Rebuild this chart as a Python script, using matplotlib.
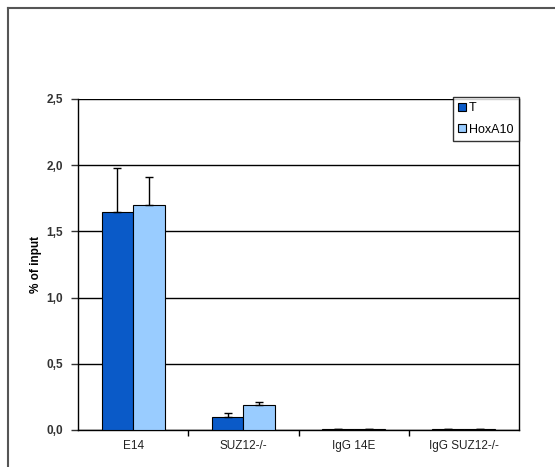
import numpy as np
import matplotlib.pyplot as plt
from matplotlib.lines import Line2D

categories = ['E14', 'SUZ12-/-', 'IgG 14E', 'IgG SUZ12-/-']
t_vals = [1.65, 0.10, 0.005, 0.005]
t_err = [0.33, 0.025, 0.0, 0.0]
hox_vals = [1.70, 0.19, 0.005, 0.005]
hox_err = [0.21, 0.02, 0.0, 0.0]
yticks = [0.0, 0.5, 1.0, 1.5, 2.0, 2.5]
ytick_labels = ['0,0', '0,5', '1,0', '1,5', '2,0', '2,5']

plt.rcParams['font.family'] = ['Liberation Sans', 'DejaVu Sans']

fig = plt.figure(figsize=(5.55, 4.67), dpi=100)
W, H = 555, 467
ax = fig.add_axes([78 / W, 1 - 430 / H, (519 - 78) / W, (430 - 99) / H])

x = np.arange(len(categories))
w = 0.285
ax.bar(x - w / 2, t_vals, w, color='#0A5AC8', edgecolor='black', linewidth=0.8,
       label='T', zorder=3)
ax.bar(x + w / 2, hox_vals, w, color='#99CCFF', edgecolor='black', linewidth=0.8,
       label='HoxA10', zorder=3)
ax.errorbar(x - w / 2, t_vals, yerr=[np.zeros(4), t_err], fmt='none', ecolor='black',
            elinewidth=1, capsize=3, capthick=1, zorder=4)
ax.errorbar(x + w / 2, hox_vals, yerr=[np.zeros(4), hox_err], fmt='none', ecolor='black',
            elinewidth=1, capsize=3, capthick=1, zorder=4)

ax.set_xlim(-0.5, len(categories) - 0.5)
ax.set_ylim(0, 2.5)
ax.set_yticks(yticks)
ax.set_yticklabels(ytick_labels)
ax.yaxis.grid(True, color='black', linewidth=1)
ax.set_axisbelow(True)

ax.set_xticks(x)
ax.set_xticklabels(categories)
ax.set_xticks(np.arange(0.5, len(categories) - 0.5, 1), minor=True)
ax.tick_params(axis='x', which='major', length=0, pad=7, labelsize=8.5, colors='#222222')
ax.tick_params(axis='x', which='minor', length=4, width=1, direction='out')
ax.tick_params(axis='y', length=5, width=1, direction='out', pad=6, labelsize=8.5,
               colors='#333333')
for lbl in ax.get_yticklabels():
    lbl.set_fontweight('bold')

for s in ['left', 'bottom', 'right']:
    ax.spines[s].set_color('black')
    ax.spines[s].set_linewidth(1)
ax.spines['top'].set_visible(False)

ax.set_ylabel('% of input', fontsize=8.5, fontweight='bold', labelpad=3)

leg = ax.legend(loc='upper right', bbox_to_anchor=(1.0, 1.007), fontsize=9,
                frameon=True, fancybox=False, handlelength=0.6, handleheight=0.6,
                handletextpad=0.25, borderpad=0.45, labelspacing=0.75, borderaxespad=0)
leg.get_frame().set_edgecolor('black')
leg.get_frame().set_linewidth(1)
leg.set_zorder(5)

# outer chart-area frame (top and left edges visible)
fig.add_artist(Line2D([8 / W, 8 / W], [0, 1 - 8 / H], color='#555555', linewidth=1.5,
                      transform=fig.transFigure))
fig.add_artist(Line2D([8 / W, 1], [1 - 8 / H, 1 - 8 / H], color='#555555', linewidth=1.5,
                      transform=fig.transFigure))

fig.savefig('out.png', dpi=100)
